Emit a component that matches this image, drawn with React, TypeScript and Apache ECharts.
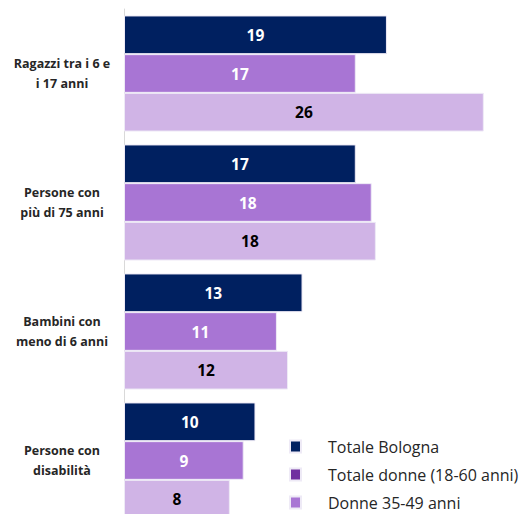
import React, { useEffect, useRef } from "react";
import * as echarts from "echarts";

const categories = [
  "Ragazzi tra i 6 e\ni 17 anni",
  "Persone con\npiù di 75 anni",
  "Bambini con\nmeno di 6 anni",
  "Persone con\ndisabilità",
];
const seriesNames = ["Totale Bologna", "Totale donne (18-60 anni)", "Donne 35-49 anni"];
const totaleBologna = [19.0, 16.75, 12.9, 9.5];
const totaleDonne = [16.75, 17.9, 11.05, 8.65];
const donne3549 = [26.0, 18.2, 11.85, 7.65];

const barColors = ["#002060", "#A875D4", "#D0B4E6"];
const legendColors = ["#002060", "#7030A0", "#A875D4"];
const labelColors = ["#ffffff", "#ffffff", "#000000"];

export default function App() {
  const ref = useRef<HTMLDivElement>(null);
  useEffect(() => {
    document.body.style.margin = "0";
    const chart = echarts.init(ref.current!, null, { renderer: "svg" });
    const values = [totaleBologna, totaleDonne, donne3549];
    chart.setOption({
      animation: false,
      backgroundColor: "#ffffff",
      textStyle: { fontFamily: "Open Sans" },
      grid: { left: 124, top: 9, width: 387.5, height: 516 },
      xAxis: {
        type: "value",
        min: 0,
        max: 28,
        show: false,
        splitLine: { show: false },
      },
      yAxis: {
        type: "category",
        data: categories,
        inverse: true,
        axisLine: { show: true, lineStyle: { color: "#d9d9d9", width: 1 } },
        axisTick: { show: false },
        axisLabel: {
          align: "center",
          margin: 62,
          fontFamily: "Open Sans",
          fontWeight: "bold",
          fontSize: 12.5,
          lineHeight: 20,
          color: "#262626",
        },
      },
      legend: {
        orient: "vertical",
        left: 284,
        top: 433,
        itemWidth: 11,
        itemHeight: 12,
        itemGap: 11,
        icon: "rect",
        textStyle: {
          fontFamily: "Open Sans",
          fontSize: 16,
          lineHeight: 17,
          color: "#262626",
          padding: [0, 0, 0, 22],
        },
        data: seriesNames.map((n, i) => ({
          name: n,
          itemStyle: { color: legendColors[i] },
        })),
      },
      series: seriesNames.map((n, i) => ({
        name: n,
        type: "bar",
        data: values[i],
        barGap: "0%",
        barCategoryGap: "10%",
        itemStyle: {
          color: barColors[i],
          borderColor: "#eeeaf6",
          borderWidth: 1,
        },
        label: {
          show: true,
          position: "inside",
          fontFamily: "Open Sans",
          fontWeight: "bold",
          fontSize: 15.5,
          color: labelColors[i],
          formatter: (p: any) => String(Math.round(p.value)),
        },
      })),
    });
    return () => chart.dispose();
  }, []);
  return (
    <div style={{ width: 526, height: 514, overflow: "hidden", position: "relative" }}>
      <div ref={ref} style={{ width: 526, height: 540 }} />
    </div>
  );
}
